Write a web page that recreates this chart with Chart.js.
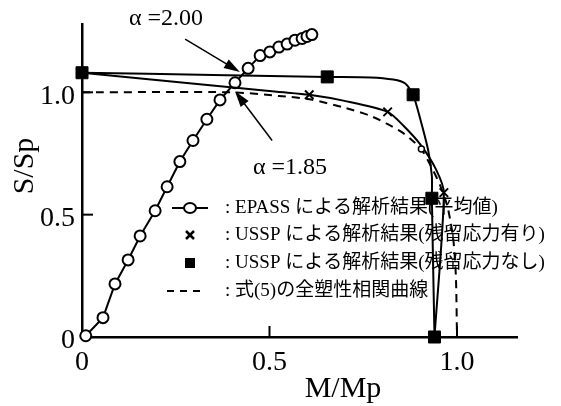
<!DOCTYPE html>
<html>
<head>
<meta charset="utf-8">
<script src="https://cdn.jsdelivr.net/npm/chart.js@4/dist/chart.umd.min.js"></script>
<style>
  body { margin: 0; background: #fff; }
  #wrap { width: 561px; height: 406px; }
</style>
</head>
<body>
<div id="wrap"><canvas id="chart"></canvas></div>
<script>
// EPASS (average) result
const epassM = [0.01, 0.056, 0.088, 0.123, 0.155, 0.195, 0.227, 0.261, 0.296, 0.333, 0.368, 0.408, 0.443, 0.475, 0.501, 0.525, 0.547, 0.568, 0.587, 0.600, 0.613];
const epassS = [0.005, 0.079, 0.217, 0.315, 0.413, 0.516, 0.614, 0.717, 0.803, 0.890, 0.969, 1.039, 1.098, 1.150, 1.165, 1.185, 1.197, 1.213, 1.220, 1.228, 1.236];

// USSP with residual stress (curve + markers)
const ussp1CurveM = [0, 0.30, 0.52, 0.606, 0.70, 0.815, 0.858, 0.904, 0.944, 0.965, 0.94];
const ussp1CurveS = [1.08, 1.035, 1.002, 0.99, 0.965, 0.92, 0.862, 0.783, 0.685, 0.59, 0];
const ussp1M = [0.606, 0.815, 0.965];
const ussp1S = [0.99, 0.92, 0.59];

// USSP without residual stress (curve + markers)
const ussp2CurveM = [0, 0.35, 0.654, 0.77, 0.83, 0.862, 0.883, 0.904, 0.923, 0.933, 0.933, 0.94];
const ussp2CurveS = [1.08, 1.071, 1.063, 1.061, 1.052, 1.036, 0.99, 0.88, 0.764, 0.657, 0.567, 0];
const ussp2M = [0, 0.654, 0.883, 0.933, 0.94];
const ussp2S = [1.08, 1.063, 0.99, 0.567, 0];

// full plastic interaction curve, eq.(5)
const eqM = [0, 0.40, 0.525, 0.606, 0.705, 0.767, 0.81, 0.855, 0.887, 0.905, 0.93, 0.955, 0.975, 0.99, 0.997, 1.0];
const eqS = [1.0, 1.0, 0.985, 0.972, 0.935, 0.905, 0.874, 0.835, 0.795, 0.768, 0.70, 0.62, 0.53, 0.40, 0.25, 0];

const xTicks = [0, 0.5, 1.0];
const yTicks = [0, 0.5, 1.0];

const legendRows = [
    ': EPASS による解析結果(平均値)',
    ': USSP による解析結果(残留応力有り)',
    ': USSP による解析結果(残留応力なし)',
    ': 式(5)の全塑性相関曲線'
];

const toXY = (xs, ys) => xs.map((x, i) => ({ x: x, y: ys[i] }));

const serif = '"Liberation Serif", "Noto Sans CJK JP", serif';

function arrow(ctx, x1, y1, x2, y2) {
    const ang = Math.atan2(y2 - y1, x2 - x1);
    const len = 16, w = 5;
    ctx.beginPath();
    ctx.moveTo(x1, y1);
    ctx.lineTo(x2 - Math.cos(ang) * len * 0.8, y2 - Math.sin(ang) * len * 0.8);
    ctx.stroke();
    ctx.beginPath();
    ctx.moveTo(x2, y2);
    ctx.lineTo(x2 - Math.cos(ang) * len + Math.sin(ang) * w, y2 - Math.sin(ang) * len - Math.cos(ang) * w);
    ctx.lineTo(x2 - Math.cos(ang) * len - Math.sin(ang) * w, y2 - Math.sin(ang) * len + Math.cos(ang) * w);
    ctx.closePath();
    ctx.fill();
}

const decorPlugin = {
    id: 'decor',
    afterDraw(chart) {
        const ctx = chart.ctx;
        const xs = chart.scales.x, ys = chart.scales.y;
        ctx.save();
        ctx.strokeStyle = '#000';
        ctx.fillStyle = '#000';
        ctx.lineWidth = 2;

        // inward tick marks
        xTicks.filter(v => v > 0).forEach(v => {
            const px = xs.getPixelForValue(v);
            ctx.beginPath(); ctx.moveTo(px, ys.bottom); ctx.lineTo(px, ys.bottom - 11); ctx.stroke();
        });
        yTicks.filter(v => v > 0).forEach(v => {
            const py = ys.getPixelForValue(v);
            ctx.beginPath(); ctx.moveTo(xs.left, py); ctx.lineTo(xs.left + 11, py); ctx.stroke();
        });

        // axis titles
        ctx.font = '30px ' + serif;
        ctx.textAlign = 'center';
        ctx.textBaseline = 'middle';
        ctx.fillText('M/Mp', 343, 389);
        ctx.save();
        ctx.translate(25, 166);
        ctx.rotate(-Math.PI / 2);
        ctx.fillText('S/Sp', 0, 0);
        ctx.restore();

        // alpha annotations
        ctx.lineWidth = 1.5;
        ctx.font = '24px ' + serif;
        ctx.textAlign = 'left';
        ctx.fillText('α =2.00', 129, 19);
        ctx.fillText('α =1.85', 253, 168);
        arrow(ctx, xs.getPixelForValue(0.275), ys.getPixelForValue(1.217),
                   xs.getPixelForValue(0.421), ys.getPixelForValue(1.083));
        arrow(ctx, xs.getPixelForValue(0.507), ys.getPixelForValue(0.803),
                   xs.getPixelForValue(0.408), ys.getPixelForValue(1.004));

        // legend
        const rowY = [208, 235, 263, 291];
        const sx = 190;
        ctx.lineWidth = 2;
        ctx.beginPath(); ctx.moveTo(172, rowY[0]); ctx.lineTo(208, rowY[0]); ctx.stroke();
        ctx.beginPath(); ctx.ellipse(sx, rowY[0], 6, 5, 0, 0, Math.PI * 2);
        ctx.fillStyle = '#fff'; ctx.fill(); ctx.stroke();
        ctx.fillStyle = '#000';
        ctx.lineWidth = 2.5;
        ctx.beginPath();
        ctx.moveTo(sx - 4, rowY[1] - 4); ctx.lineTo(sx + 4, rowY[1] + 4);
        ctx.moveTo(sx + 4, rowY[1] - 4); ctx.lineTo(sx - 4, rowY[1] + 4);
        ctx.stroke();
        ctx.fillRect(sx - 5, rowY[2] - 5, 10, 10);
        ctx.lineWidth = 2;
        ctx.setLineDash([7, 6]);
        ctx.beginPath(); ctx.moveTo(167, rowY[3]); ctx.lineTo(201, rowY[3]); ctx.stroke();
        ctx.setLineDash([]);

        ctx.font = '19px ' + serif;
        ctx.textBaseline = 'middle';
        legendRows.forEach((t, i) => ctx.fillText(t, 225, rowY[i]));
        ctx.restore();
    }
};

const tickFont = { family: serif, size: 28 };

new Chart(document.getElementById('chart'), {
    type: 'scatter',
    data: {
        datasets: [
            {
                label: '式(5)の全塑性相関曲線',
                data: toXY(eqM, eqS),
                showLine: true,
                borderColor: '#000',
                borderWidth: 2,
                borderDash: [8, 6],
                tension: 0.25,
                pointRadius: eqM.map((m, i) => i === 9 ? 3 : 0),
                pointBackgroundColor: '#fff',
                pointBorderColor: '#000',
                pointBorderWidth: 1.5,
                clip: false
            },
            {
                label: 'USSP 残留応力有り curve',
                data: toXY(ussp1CurveM, ussp1CurveS),
                showLine: true,
                borderColor: '#000',
                borderWidth: 2,
                tension: 0.25,
                pointRadius: 0,
                clip: false
            },
            {
                label: 'USSP 残留応力なし curve',
                data: toXY(ussp2CurveM, ussp2CurveS),
                showLine: true,
                borderColor: '#000',
                borderWidth: 2,
                tension: 0.25,
                pointRadius: 0,
                clip: false
            },
            {
                label: 'USSP による解析結果(残留応力有り)',
                data: toXY(ussp1M, ussp1S),
                showLine: false,
                pointStyle: 'crossRot',
                pointRadius: 6,
                borderColor: '#000',
                pointBorderWidth: 2,
                clip: false
            },
            {
                label: 'USSP による解析結果(残留応力なし)',
                data: toXY(ussp2M, ussp2S),
                showLine: false,
                pointStyle: 'rect',
                pointRadius: 8.5,
                backgroundColor: '#000',
                borderColor: '#000',
                clip: false
            },
            {
                label: 'EPASS による解析結果(平均値)',
                data: toXY(epassM, epassS),
                showLine: true,
                borderColor: '#000',
                borderWidth: 2,
                tension: 0,
                pointStyle: 'circle',
                pointRadius: 5.5,
                pointBackgroundColor: '#fff',
                pointBorderColor: '#000',
                pointBorderWidth: 2,
                clip: false
            }
        ]
    },
    options: {
        responsive: true,
        maintainAspectRatio: false,
        animation: false,
        layout: { padding: { top: 12, right: 44, left: 0, bottom: 0 } },
        plugins: { legend: { display: false }, tooltip: { enabled: false } },
        scales: {
            x: {
                type: 'linear',
                min: 0,
                max: 1.16,
                afterFit: s => { s.height = 69; },
                afterBuildTicks: s => { s.ticks = xTicks.map(v => ({ value: v })); },
                grid: { drawOnChartArea: false, drawTicks: false },
                border: { color: '#000', width: 2.5 },
                ticks: {
                    font: tickFont,
                    color: '#000',
                    padding: 9,
                    maxRotation: 0,
                    callback: v => v === 0 ? '0' : v.toFixed(1)
                }
            },
            y: {
                type: 'linear',
                min: 0,
                max: 1.28,
                afterFit: s => { s.width = 82; },
                afterBuildTicks: s => { s.ticks = yTicks.map(v => ({ value: v })); },
                grid: { drawOnChartArea: false, drawTicks: false },
                border: { color: '#000', width: 2.5 },
                ticks: {
                    font: tickFont,
                    color: '#000',
                    padding: 7,
                    labelOffset: 4,
                    callback: v => v === 0 ? '0' : v.toFixed(1)
                }
            }
        }
    },
    plugins: [decorPlugin]
});
</script>
</body>
</html>
